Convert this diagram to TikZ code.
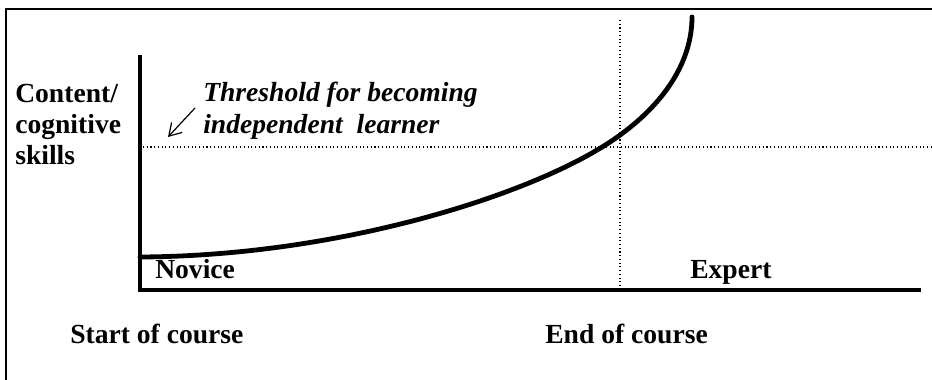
\documentclass[tikz,border=0pt]{standalone}
\usepackage{fontspec}
\setmainfont{Liberation Serif}
\usetikzlibrary{arrows.meta}

\tikzset{
  lbl/.style={anchor=base west,inner sep=0pt,font=\fontsize{20.7}{24}\selectfont\bfseries},
  lblit/.style={lbl,font=\fontsize{20.7}{24}\selectfont\bfseries\itshape},
  guide/.style={dotted,line width=0.8pt},
  axis/.style={line width=2.4pt},
}

\begin{document}
\begin{tikzpicture}[x=0.75pt,y=0.75pt,yscale=-1,xscale=1]
\useasboundingbox (0,0) rectangle (932,379);

%Shape: Frame
\draw [line width=1.6pt] (6,9) rectangle (950,395);

%Axes
\coordinate (ytop) at (140,55);
\coordinate (origin) at (140,290);
\coordinate (xend) at (921,290);
\draw [axis] (ytop) -- (origin) -- (xend);

%Threshold and end of course guides
\coordinate (thrL) at (143,147);
\coordinate (thrR) at (932,147);
\coordinate (endT) at (620,20);
\coordinate (endB) at (620,288);
\draw [guide] (thrL) -- (thrR);
\draw [guide] (endT) -- (endB);

%Curve Lines: learning curve
\coordinate (cstart) at (140,257);
\coordinate (cmid) at (610,142);
\coordinate (cend) at (692,17);
\draw [line width=3.6pt,line cap=round] (cstart) .. controls (340,256) and (530,195) .. (cmid) .. controls (660,109) and (692,65) .. (cend);

%Arrow to threshold
\coordinate (arrtail) at (195,108);
\coordinate (arrtip) at (168,137);
\draw [line width=0.9pt,-{Straight Barb[length=9pt,width=11pt]}] (arrtail) -- (arrtip);

% Text Node
\node [lbl] (content) at (15,102) {Content/};
% Text Node
\node [lbl] (cognitive) at (15,133) {cognitive};
% Text Node
\node [lbl] (skills) at (15,164) {skills};
% Text Node
\node [lblit] (thresh) at (203,101) {Threshold for becoming};
% Text Node
\node [lblit] (indep) at (203,133) {independent\ \ learner};
% Text Node
\node [lbl] (novice) at (155,278) {Novice};
% Text Node
\node [lbl] (expert) at (690,278) {Expert};
% Text Node
\node [lbl] (start) at (70,343) {Start of course};
% Text Node
\node [lbl] (endc) at (545,343) {End of course};
\end{tikzpicture}
\end{document}
